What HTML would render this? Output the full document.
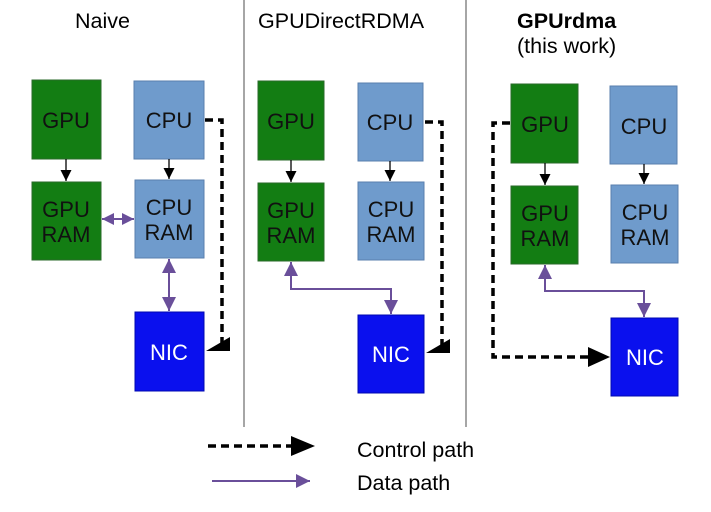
<!DOCTYPE html>
<html><head><style>html,body{margin:0;padding:0;background:#fff}svg{display:block}text{font-family:"Liberation Sans",sans-serif}</style></head><body>
<svg width="711" height="512" viewBox="0 0 711 512" xmlns="http://www.w3.org/2000/svg">
<defs>
<marker id="ka" viewBox="0 0 10 10" refX="10" refY="5" markerWidth="11" markerHeight="12" markerUnits="userSpaceOnUse" orient="auto"><path d="M0,0L10,5L0,10z" fill="#000"/></marker>
<marker id="pa" viewBox="0 0 10 10" refX="10" refY="5" markerWidth="12" markerHeight="12" markerUnits="userSpaceOnUse" orient="auto-start-reverse"><path d="M0,0L10,5L0,10z" fill="#6a4f9a"/></marker>
<marker id="pb" viewBox="0 0 10 10" refX="10" refY="5" markerWidth="18" markerHeight="14" markerUnits="userSpaceOnUse" orient="auto-start-reverse"><path d="M0,0L10,5L0,10z" fill="#6a4f9a"/></marker>
</defs>
<line x1="244" y1="0" x2="244" y2="427" stroke="#777" stroke-width="1.3"/>
<line x1="466" y1="0" x2="466" y2="427" stroke="#777" stroke-width="1.3"/>
<text x="75" y="28" font-size="21.5">Naive</text>
<text x="258" y="28" font-size="21.5">GPUDirectRDMA</text>
<text x="517" y="28" font-size="21.5" font-weight="bold">GPUrdma</text>
<text x="517" y="53" font-size="21.5">(this work)</text>
<g font-size="22" text-anchor="middle">
<rect x="32" y="80" width="69" height="79" fill="#137d13" stroke="#2a6a2a"/><text x="66" y="128" fill="#111">GPU</text>
<rect x="134" y="81" width="70" height="78" fill="#6f9bcc" stroke="#5a7fae"/><text x="169" y="128" fill="#111">CPU</text>
<rect x="32" y="182" width="69" height="78" fill="#137d13" stroke="#2a6a2a"/><text x="66" y="217" fill="#111">GPU</text><text x="66" y="242" fill="#111">RAM</text>
<rect x="135" y="180" width="69" height="78" fill="#6f9bcc" stroke="#5a7fae"/><text x="169" y="215" fill="#111">CPU</text><text x="169" y="240" fill="#111">RAM</text>
<rect x="135" y="312" width="69" height="79" fill="#0a10ee" stroke="#0008b0"/><text x="169" y="360" fill="#fff">NIC</text>
<rect x="258" y="81" width="66" height="79" fill="#137d13" stroke="#2a6a2a"/><text x="291" y="129" fill="#111">GPU</text>
<rect x="358" y="83" width="65" height="78" fill="#6f9bcc" stroke="#5a7fae"/><text x="390" y="130" fill="#111">CPU</text>
<rect x="258" y="183" width="66" height="78" fill="#137d13" stroke="#2a6a2a"/><text x="291" y="218" fill="#111">GPU</text><text x="291" y="243" fill="#111">RAM</text>
<rect x="358" y="182" width="66" height="78" fill="#6f9bcc" stroke="#5a7fae"/><text x="391" y="217" fill="#111">CPU</text><text x="391" y="242" fill="#111">RAM</text>
<rect x="358" y="315" width="66" height="78" fill="#0a10ee" stroke="#0008b0"/><text x="391" y="362" fill="#fff">NIC</text>
<rect x="511" y="84" width="67" height="79" fill="#137d13" stroke="#2a6a2a"/><text x="545" y="132" fill="#111">GPU</text>
<rect x="610" y="86" width="67" height="78" fill="#6f9bcc" stroke="#5a7fae"/><text x="644" y="134" fill="#111">CPU</text>
<rect x="511" y="186" width="67" height="78" fill="#137d13" stroke="#2a6a2a"/><text x="545" y="221" fill="#111">GPU</text><text x="545" y="246" fill="#111">RAM</text>
<rect x="611" y="185" width="67" height="78" fill="#6f9bcc" stroke="#5a7fae"/><text x="645" y="220" fill="#111">CPU</text><text x="645" y="245" fill="#111">RAM</text>
<rect x="611" y="318" width="67" height="78" fill="#0a10ee" stroke="#0008b0"/><text x="645" y="365" fill="#fff">NIC</text>
</g>
<g stroke="#000" stroke-width="1.3">
<line x1="66" y1="159" x2="66" y2="181" marker-end="url(#ka)"/>
<line x1="169" y1="159" x2="169" y2="179" marker-end="url(#ka)"/>
<line x1="291" y1="160" x2="291" y2="182" marker-end="url(#ka)"/>
<line x1="390" y1="161" x2="390" y2="181" marker-end="url(#ka)"/>
<line x1="545" y1="163" x2="545" y2="185" marker-end="url(#ka)"/>
<line x1="644" y1="164" x2="644" y2="184" marker-end="url(#ka)"/>
</g>
<g stroke="#6a4f9a" stroke-width="2" fill="none">
<line x1="102" y1="219" x2="134" y2="219" marker-start="url(#pa)" marker-end="url(#pa)"/>
<line x1="169" y1="259" x2="169" y2="311" marker-start="url(#pb)" marker-end="url(#pb)"/>
<polyline points="291,262 291,289 391,289 391,314" marker-start="url(#pb)" marker-end="url(#pb)"/>
<polyline points="545,265 545,291 644,291 644,317" marker-start="url(#pb)" marker-end="url(#pb)"/>
<line x1="212" y1="481" x2="310" y2="481" marker-end="url(#pb)"/>
</g>
<g stroke="#000" stroke-width="3.5" fill="none" stroke-dasharray="8,5">
<polyline points="205,120 222,120 222,345"/>
<polyline points="425,122 442,122 442,348"/>
<polyline points="510,123 493,123 493,357 595,357"/>
<line x1="208" y1="446" x2="295" y2="446"/>
</g>
<path d="M206,351 L230,337 L230,351 Z" fill="#000"/>
<path d="M426,353 L450,339 L450,353 Z" fill="#000"/>
<path d="M610,357 L588,347 L588,367 Z" fill="#000"/>
<path d="M315,446 L291,436 L291,456 Z" fill="#000"/>
<text x="357" y="457" font-size="21.5">Control path</text>
<text x="357" y="490" font-size="21.5">Data path</text>
</svg>
</body></html>
